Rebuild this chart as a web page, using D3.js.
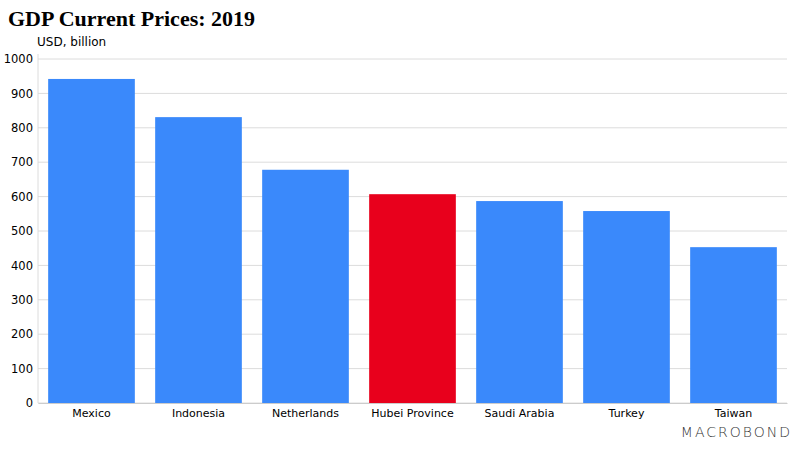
<!DOCTYPE html>
<html>
<head>
<meta charset="utf-8">
<script src="https://cdn.jsdelivr.net/npm/d3@7"></script>
<style>
  body { margin: 0; background: #fff; }
  text { font-family: "DejaVu Sans", sans-serif; }
</style>
</head>
<body>
<div id="chart"></div>
<script>
const categories = ["Mexico", "Indonesia", "Netherlands", "Hubei Province", "Saudi Arabia", "Turkey", "Taiwan"];
const values = [942, 831, 678, 607, 587, 558, 453];
const highlight = "Hubei Province";
const yTicks = [0, 100, 200, 300, 400, 500, 600, 700, 800, 900, 1000];

const W = 800, H = 450;
const margin = {top: 59, right: 13, bottom: 47, left: 38};
const width = W - margin.left - margin.right;
const height = H - margin.top - margin.bottom;

var svg = d3.select("#chart").append("svg")
    .attr("width", W)
    .attr("height", H);

var xScale = d3.scaleBand().domain(categories).range([0, width]).paddingInner(0.19).paddingOuter(0.095);
var yScale = d3.scaleLinear().domain([0, 1000]).range([height, 0]);

var g = svg.append("g").attr("transform", "translate(" + margin.left + "," + margin.top + ")");

// gridlines
g.selectAll(".grid").data(yTicks).enter().append("line")
    .attr("class", "grid")
    .attr("x1", 0).attr("x2", width)
    .attr("y1", function (d) { return yScale(d); })
    .attr("y2", function (d) { return yScale(d); })
    .attr("stroke", "#dcdcdc")
    .attr("stroke-width", 1);

// y axis line
g.append("line")
    .attr("x1", 0).attr("x2", 0)
    .attr("y1", -5).attr("y2", height)
    .attr("stroke", "#dcdcdc");

// bars
g.selectAll(".bar").data(values).enter().append("rect")
    .attr("class", "bar")
    .attr("x", function (d, i) { return xScale(categories[i]); })
    .attr("y", function (d) { return yScale(d); })
    .attr("width", xScale.bandwidth())
    .attr("height", function (d) { return height - yScale(d); })
    .attr("fill", function (d, i) { return categories[i] == highlight ? "#e8001c" : "#3a89fb"; });

// axes
var yAxis = d3.axisLeft(yScale).tickValues(yTicks).tickFormat(d3.format("d")).tickSize(0).tickPadding(5);
g.append("g").attr("class", "y axis").call(yAxis)
    .call(function (s) { s.select(".domain").remove(); })
    .selectAll("text").attr("font-size", 11.5).attr("fill", "#000")
    .style("font-family", "DejaVu Sans, sans-serif");

var xAxis = d3.axisBottom(xScale).tickSize(0).tickPadding(6);
g.append("g").attr("class", "x axis")
    .attr("transform", "translate(0," + height + ")")
    .call(xAxis)
    .call(function (s) { s.select(".domain").attr("stroke", "#cccccc"); })
    .selectAll("text").attr("font-size", 11).attr("fill", "#000")
    .style("font-family", "DejaVu Sans, sans-serif");

// title and unit
svg.append("text")
    .attr("x", 8).attr("y", 26)
    .attr("font-size", 22).attr("font-weight", "bold")
    .style("font-family", "'Liberation Serif', Georgia, serif")
    .text("GDP Current Prices: 2019");

svg.append("text")
    .attr("x", 37).attr("y", 46)
    .attr("font-size", 12)
    .text("USD, billion");

// watermark
svg.append("text")
    .attr("x", 792).attr("y", 437)
    .attr("text-anchor", "end")
    .attr("font-size", 14)
    .attr("letter-spacing", 2)
    .attr("fill", "#333")
    .style("font-family", "'DejaVu Sans', sans-serif")
    .style("font-weight", "200")
    .text("MACROBOND");
</script>
</body>
</html>
